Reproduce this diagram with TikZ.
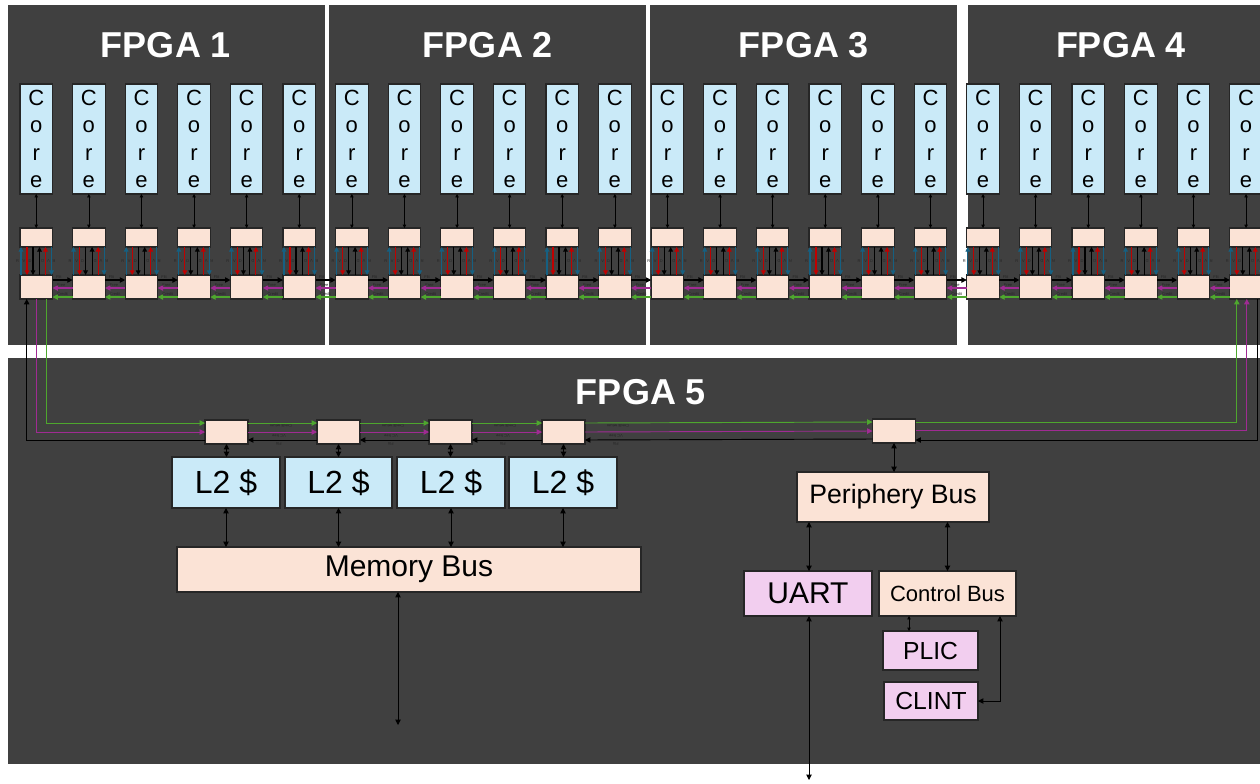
\documentclass[tikz,border=0pt]{standalone}
\usepackage{fontspec}
\setmainfont{Liberation Sans}
\usetikzlibrary{arrows.meta,calc}
\definecolor{panel}{HTML}{404040}
\definecolor{corefill}{HTML}{CAEAF8}
\definecolor{peach}{HTML}{FBE3D6}
\definecolor{pinkbox}{HTML}{F2CEEF}
\definecolor{lnkblue}{HTML}{156082}
\definecolor{lnkred}{HTML}{C00000}
\definecolor{lnkgreen}{HTML}{4EA72E}
\definecolor{lnkmag}{HTML}{A02B93}
\definecolor{edge}{HTML}{262626}
\tikzset{
  wh/.style 2 args={minimum width=#1*0.75pt, minimum height=#2*0.75pt},
  box/.style={draw=edge, line width=0.8pt, inner sep=0pt, outer sep=0pt, text=black},
  core/.style={box, fill=corefill, wh={32.5}{110}, align=center,
    font=\fontsize{16.5}{20.5}\selectfont},
  rt/.style={box, fill=peach},
  pk/.style={box, fill=pinkbox},
  title/.style={text=white, font=\bfseries\fontsize{27}{30}\selectfont},
  dbl/.style={draw=black, line width=0.7pt, {Triangle[length=4pt,width=4pt]}-{Triangle[length=4pt,width=4pt]}},
  sdbl/.style={draw=black, line width=0.5pt, {Triangle[length=2.5pt,width=2.5pt]}-{Triangle[length=2.5pt,width=2.5pt]}},
  vl/.style={draw=#1, line width=0.8pt, -{Triangle[length=3.5pt,width=3.5pt]}},
  hl/.style={draw=#1, line width=0.8pt, -{Triangle[length=4pt,width=4pt]}},
  ring/.style={draw=#1, line width=0.7pt, -{Triangle[length=4pt,width=4pt]}},
  tl/.style={font=\fontsize{3}{3}\selectfont, text=black!85, inner sep=0.3pt},
  lbig/.style={font=\fontsize{24}{26}\selectfont},
}
\begin{document}
\begin{tikzpicture}[x=0.75pt,y=-0.75pt]
\useasboundingbox (0,0) rectangle (1260,783);
\fill[white] (0,0) rectangle (1260,783);
\clip (0,0) rectangle (1260,783);

% FPGA panels
\fill[panel] (8,5) rectangle (325,345);
\fill[panel] (329,5) rectangle (646,345);
\fill[panel] (650,5) rectangle (957,345);
\fill[panel] (968,5) rectangle (1262,345);
\fill[panel] (8,358) rectangle (1262,764);
\node[title] (t1) at (166,45) {FPGA 1};
\node[title] (t2) at (488,45) {FPGA 2};
\node[title] (t3) at (804,45) {FPGA 3};
\node[title] (t4) at (1121,45) {FPGA 4};
\node[title] (t5) at (641,392) {FPGA 5};

% cores, upper and lower router stages
\foreach \k in {0,...,23}{
  \pgfmathsetmacro{\xc}{36.25+52.6*\k}
  \node[core] (c\k) at (\xc,139) {C\\o\\r\\e};
  \node[rt, wh={32.5}{19}] (u\k) at (\xc,237.5) {};
  \node[rt, wh={32.5}{24}] (l\k) at (\xc,287) {};
}

% links inside each router
\foreach \k in {0,...,23}{
  \draw[sdbl] (c\k.south) -- (u\k.north);
  \draw[vl=lnkblue]  ($(l\k.north west)+(1,0)$)    -- ($(u\k.south west)+(1,0)$);
  \draw[vl=lnkred]   ($(u\k.south west)+(7,0)$)    -- ($(l\k.north west)+(7,0)$);
  \draw[vl=black]    ($(u\k.south west)+(13,0)$)   -- ($(l\k.north west)+(13,0)$);
  \draw[vl=black]    ($(l\k.north west)+(19.5,0)$) -- ($(u\k.south west)+(19.5,0)$);
  \draw[vl=lnkred]   ($(l\k.north west)+(25.5,0)$) -- ($(u\k.south west)+(25.5,0)$);
  \draw[vl=lnkblue]  ($(u\k.south west)+(31.5,0)$) -- ($(l\k.north west)+(31.5,0)$);
  \node[tl] at ($(u\k.south west)+(-2.5,14)$) {R};
  \node[tl] at ($(u\k.south west)+(4,14)$) {V};
  \node[tl] at ($(u\k.south west)+(10,14)$) {D};
  \node[tl, rotate=180] at ($(u\k.south west)+(22.5,14)$) {D};
  \node[tl, rotate=180] at ($(u\k.south west)+(28.5,14)$) {V};
  \node[tl, rotate=180] at ($(u\k.south west)+(34,14)$) {R};
}

% links between neighbouring routers
\foreach \k [evaluate=\k as \n using int(\k+1)] in {0,...,22}{
  \draw[hl=black]    ($(l\k.north east)+(0,5)$)  -- ($(l\n.north west)+(0,5)$);
  \draw[hl=lnkmag]   ($(l\n.north west)+(0,13)$) -- ($(l\k.north east)+(0,13)$);
  \draw[hl=lnkgreen] ($(l\n.north west)+(0,22)$) -- ($(l\k.north east)+(0,22)$);
  \node[tl, anchor=south west] at ($(l\k.north east)+(3,4.5)$) {Flit};
  \node[tl, anchor=south west] at ($(l\k.north east)+(4,12.5)$) {Free};
  \node[tl, anchor=south west] at ($(l\k.north east)+(4,21.5)$) {Credit};
}

% FPGA 5 ring stops
\node[rt, wh={43}{24}] (f1) at (226.5,432) {};
\node[rt, wh={43}{24}] (f2) at (338.5,432) {};
\node[rt, wh={43}{24}] (f3) at (450.5,432) {};
\node[rt, wh={43}{24}] (f4) at (563.5,432) {};
\node[rt, wh={43}{24}] (f5) at (894,431) {};

\foreach \a/\b in {f1/f2,f2/f3,f3/f4,f4/f5}{
  \draw[ring=lnkgreen] ($(\a.north east)+(0,3)$)  -- ($(\b.north west)+(0,3)$);
  \draw[ring=lnkmag]   ($(\a.north east)+(0,12)$) -- ($(\b.north west)+(0,12)$);
  \draw[ring=black]    ($(\b.north west)+(0,20)$) -- ($(\a.north east)+(0,20)$);
  \node[tl, rotate=180] at ($(\a.north east)+(33,6)$) {Credit return};
  \node[tl, rotate=180] at ($(\a.north east)+(31,15.5)$) {VC free};
  \node[tl, rotate=180] at ($(\a.north east)+(31,24)$) {Flit};
}

% ring closing to the first router
\draw[ring=black]    ($(f1.north west)+(0,20)$) -| ($(l0.south west)+(6.7,0)$);
\draw[ring=lnkmag]   ($(l0.south west)+(16,0)$) |- ($(f1.north west)+(0,12)$);
\draw[ring=lnkgreen] ($(l0.south west)+(26.7,0)$) |- ($(f1.north west)+(0,3)$);

% ring closing to the last router
\draw[ring=lnkgreen] ($(f5.north east)+(0,3)$)  -| ($(l23.south west)+(7,0)$);
\draw[ring=lnkmag]   ($(f5.north east)+(0,11)$) -| ($(l23.south west)+(17,0)$);
\draw[ring=black]    ($(l23.south west)+(28,0)$) |- ($(f5.north east)+(0,21)$);

% L2 caches and memory bus
\node[box, fill=corefill, wh={108}{51}, lbig] (L1) at (226,482.5) {L2 \$};
\node[box, fill=corefill, wh={107}{51}, lbig] (L2) at (338.5,482.5) {L2 \$};
\node[box, fill=corefill, wh={108}{51}, lbig] (L3) at (451,482.5) {L2 \$};
\node[box, fill=corefill, wh={108}{51}, lbig] (L4) at (563,482.5) {L2 \$};
\node[rt, wh={464}{45}, font=\fontsize{22.5}{26}\selectfont] (mb) at (409,569.5) {Memory Bus};

\foreach \i in {1,...,4}{
  \draw[dbl] (f\i.south) -- (f\i.south |- L\i.north);
  \draw[dbl] (L\i.south) -- (L\i.south |- mb.north);
}
\coordinate (memout) at (398,725);
\draw[dbl] (mb.south -| memout) -- (memout);

% periphery side
\node[rt, wh={192}{50}, font=\fontsize{20}{24}\selectfont] (pb) at (893,497) {Periphery Bus};
\node[pk, wh={128}{45}, font=\fontsize{22.5}{26}\selectfont] (ua) at (808,593.5) {UART};
\node[rt, wh={137}{45}, font=\fontsize{16.5}{20}\selectfont] (cb) at (947.5,593.5) {Control Bus};
\node[pk, wh={95}{39}, font=\fontsize{18.5}{22}\selectfont] (pl) at (930.5,650.5) {PLIC};
\node[pk, wh={94}{38}, font=\fontsize{18.5}{22}\selectfont] (cl) at (931,701) {CLINT};

\draw[dbl] (f5.south) -- (f5.south |- pb.north);
\coordinate (uax) at (809,0);
\draw[dbl] (pb.south -| uax) -- (ua.north -| uax);
\draw[dbl] (pb.south -| cb.north) -- (cb.north);
\coordinate (plx) at (909,0);
\draw[sdbl] (cb.south -| plx) -- (pl.north -| plx);
\coordinate (clx) at (1000,0);
\draw[dbl] (cb.south -| clx) |- (cl.east);
\coordinate (uartout) at (809,780);
\draw[dbl] (ua.south -| uartout) -- (uartout);
\end{tikzpicture}
\end{document}
